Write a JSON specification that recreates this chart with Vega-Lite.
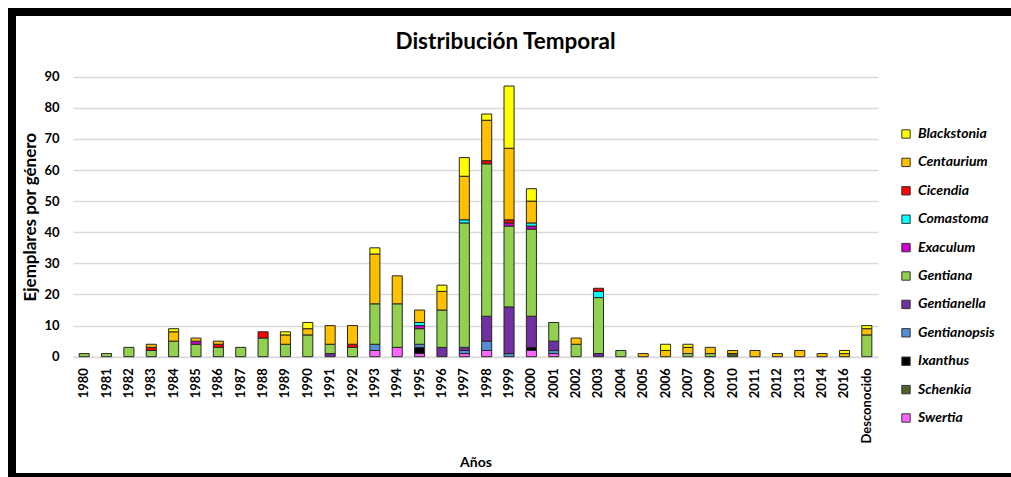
{
  "$schema": "https://vega.github.io/schema/vega-lite/v6.json",
  "autosize": {"type": "none"},
  "width": 999,
  "height": 465,
  "padding": {"left": 12, "top": 12, "right": 0, "bottom": 0},
  "background": "white",
  "title": {
    "text": "Distribución Temporal",
    "font": "Lato",
    "fontSize": 22.5,
    "fontWeight": "bold",
    "color": "#000000",
    "anchor": "middle",
    "frame": "group",
    "offset": -41,
    "dx": -6
  },
  "data": {
    "values": [
      {"anio": "1980", "genero": "Gentiana", "n": 1},
      {"anio": "1981", "genero": "Gentiana", "n": 1},
      {"anio": "1982", "genero": "Gentiana", "n": 3},
      {"anio": "1983", "genero": "Gentiana", "n": 2},
      {"anio": "1983", "genero": "Cicendia", "n": 1},
      {"anio": "1983", "genero": "Centaurium", "n": 1},
      {"anio": "1984", "genero": "Gentiana", "n": 5},
      {"anio": "1984", "genero": "Centaurium", "n": 3},
      {"anio": "1984", "genero": "Blackstonia", "n": 1},
      {"anio": "1985", "genero": "Gentiana", "n": 4},
      {"anio": "1985", "genero": "Exaculum", "n": 1},
      {"anio": "1985", "genero": "Centaurium", "n": 1},
      {"anio": "1986", "genero": "Gentiana", "n": 3},
      {"anio": "1986", "genero": "Cicendia", "n": 1},
      {"anio": "1986", "genero": "Centaurium", "n": 1},
      {"anio": "1987", "genero": "Gentiana", "n": 3},
      {"anio": "1988", "genero": "Gentiana", "n": 6},
      {"anio": "1988", "genero": "Cicendia", "n": 2},
      {"anio": "1989", "genero": "Gentiana", "n": 4},
      {"anio": "1989", "genero": "Centaurium", "n": 3},
      {"anio": "1989", "genero": "Blackstonia", "n": 1},
      {"anio": "1990", "genero": "Gentiana", "n": 7},
      {"anio": "1990", "genero": "Centaurium", "n": 2},
      {"anio": "1990", "genero": "Blackstonia", "n": 2},
      {"anio": "1991", "genero": "Gentianella", "n": 1},
      {"anio": "1991", "genero": "Gentiana", "n": 3},
      {"anio": "1991", "genero": "Centaurium", "n": 6},
      {"anio": "1992", "genero": "Gentiana", "n": 3},
      {"anio": "1992", "genero": "Cicendia", "n": 1},
      {"anio": "1992", "genero": "Centaurium", "n": 6},
      {"anio": "1993", "genero": "Swertia", "n": 2},
      {"anio": "1993", "genero": "Gentianopsis", "n": 2},
      {"anio": "1993", "genero": "Gentiana", "n": 13},
      {"anio": "1993", "genero": "Centaurium", "n": 16},
      {"anio": "1993", "genero": "Blackstonia", "n": 2},
      {"anio": "1994", "genero": "Swertia", "n": 3},
      {"anio": "1994", "genero": "Gentiana", "n": 14},
      {"anio": "1994", "genero": "Centaurium", "n": 9},
      {"anio": "1995", "genero": "Swertia", "n": 1},
      {"anio": "1995", "genero": "Ixanthus", "n": 2},
      {"anio": "1995", "genero": "Gentianopsis", "n": 1},
      {"anio": "1995", "genero": "Gentiana", "n": 5},
      {"anio": "1995", "genero": "Exaculum", "n": 1},
      {"anio": "1995", "genero": "Comastoma", "n": 1},
      {"anio": "1995", "genero": "Centaurium", "n": 4},
      {"anio": "1996", "genero": "Gentianella", "n": 3},
      {"anio": "1996", "genero": "Gentiana", "n": 12},
      {"anio": "1996", "genero": "Centaurium", "n": 6},
      {"anio": "1996", "genero": "Blackstonia", "n": 2},
      {"anio": "1997", "genero": "Swertia", "n": 1},
      {"anio": "1997", "genero": "Gentianopsis", "n": 1},
      {"anio": "1997", "genero": "Gentianella", "n": 1},
      {"anio": "1997", "genero": "Gentiana", "n": 40},
      {"anio": "1997", "genero": "Comastoma", "n": 1},
      {"anio": "1997", "genero": "Centaurium", "n": 14},
      {"anio": "1997", "genero": "Blackstonia", "n": 6},
      {"anio": "1998", "genero": "Swertia", "n": 2},
      {"anio": "1998", "genero": "Gentianopsis", "n": 3},
      {"anio": "1998", "genero": "Gentianella", "n": 8},
      {"anio": "1998", "genero": "Gentiana", "n": 49},
      {"anio": "1998", "genero": "Cicendia", "n": 1},
      {"anio": "1998", "genero": "Centaurium", "n": 13},
      {"anio": "1998", "genero": "Blackstonia", "n": 2},
      {"anio": "1999", "genero": "Gentianopsis", "n": 1},
      {"anio": "1999", "genero": "Gentianella", "n": 15},
      {"anio": "1999", "genero": "Gentiana", "n": 26},
      {"anio": "1999", "genero": "Exaculum", "n": 1},
      {"anio": "1999", "genero": "Cicendia", "n": 1},
      {"anio": "1999", "genero": "Centaurium", "n": 23},
      {"anio": "1999", "genero": "Blackstonia", "n": 20},
      {"anio": "2000", "genero": "Swertia", "n": 2},
      {"anio": "2000", "genero": "Ixanthus", "n": 1},
      {"anio": "2000", "genero": "Gentianella", "n": 10},
      {"anio": "2000", "genero": "Gentiana", "n": 28},
      {"anio": "2000", "genero": "Exaculum", "n": 1},
      {"anio": "2000", "genero": "Comastoma", "n": 1},
      {"anio": "2000", "genero": "Centaurium", "n": 7},
      {"anio": "2000", "genero": "Blackstonia", "n": 4},
      {"anio": "2001", "genero": "Swertia", "n": 1},
      {"anio": "2001", "genero": "Gentianopsis", "n": 1},
      {"anio": "2001", "genero": "Gentianella", "n": 3},
      {"anio": "2001", "genero": "Gentiana", "n": 6},
      {"anio": "2002", "genero": "Gentiana", "n": 4},
      {"anio": "2002", "genero": "Centaurium", "n": 2},
      {"anio": "2003", "genero": "Gentianella", "n": 1},
      {"anio": "2003", "genero": "Gentiana", "n": 18},
      {"anio": "2003", "genero": "Comastoma", "n": 2},
      {"anio": "2003", "genero": "Cicendia", "n": 1},
      {"anio": "2004", "genero": "Gentiana", "n": 2},
      {"anio": "2005", "genero": "Centaurium", "n": 1},
      {"anio": "2006", "genero": "Centaurium", "n": 2},
      {"anio": "2006", "genero": "Blackstonia", "n": 2},
      {"anio": "2007", "genero": "Gentiana", "n": 1},
      {"anio": "2007", "genero": "Centaurium", "n": 2},
      {"anio": "2007", "genero": "Blackstonia", "n": 1},
      {"anio": "2009", "genero": "Gentiana", "n": 1},
      {"anio": "2009", "genero": "Centaurium", "n": 2},
      {"anio": "2010", "genero": "Schenkia", "n": 1},
      {"anio": "2010", "genero": "Centaurium", "n": 1},
      {"anio": "2011", "genero": "Centaurium", "n": 2},
      {"anio": "2012", "genero": "Centaurium", "n": 1},
      {"anio": "2013", "genero": "Centaurium", "n": 2},
      {"anio": "2014", "genero": "Centaurium", "n": 1},
      {"anio": "2016", "genero": "Centaurium", "n": 1},
      {"anio": "2016", "genero": "Blackstonia", "n": 1},
      {"anio": "Desconocido", "genero": "Gentiana", "n": 7},
      {"anio": "Desconocido", "genero": "Centaurium", "n": 2},
      {"anio": "Desconocido", "genero": "Blackstonia", "n": 1}
    ]
  },
  "mark": {"type": "bar", "stroke": "#262626", "strokeWidth": 1},
  "encoding": {
    "x": {
      "field": "anio",
      "type": "nominal",
      "scale": {"range": [61, 866], "paddingInner": 0.55, "paddingOuter": 0.275},
      "axis": {
        "title": "Años",
        "offset": -120.3,
        "domain": true,
        "domainColor": "#D9D9D9",
        "domainWidth": 1.5,
        "ticks": false,
        "tickSize": 0,
        "labelAngle": -90,
        "labelPadding": 11,
        "labelFont": "Lato",
        "labelFontSize": 13,
        "labelFontWeight": "bold",
        "labelColor": "#000000",
        "titleFont": "Lato",
        "titleFontSize": 14,
        "titleFontWeight": "bold",
        "titleColor": "#000000",
        "titleY": 106,
        "titleBaseline": "middle"
      }
    },
    "y": {
      "field": "n",
      "type": "quantitative",
      "aggregate": "sum",
      "stack": "zero",
      "scale": {"domain": [0, 90], "range": [344.7, 64.7], "nice": false, "zero": true},
      "axis": {
        "title": "Ejemplares por género",
        "offset": -61,
        "values": [0, 10, 20, 30, 40, 50, 60, 70, 80, 90],
        "domain": false,
        "ticks": false,
        "tickSize": 0,
        "grid": true,
        "gridColor": "#D9D9D9",
        "gridWidth": 1.5,
        "labelPadding": 14,
        "labelFont": "Lato",
        "labelFontSize": 13,
        "labelFontWeight": "bold",
        "labelColor": "#000000",
        "titleFont": "Lato",
        "titleFontSize": 17,
        "titleFontWeight": "bold",
        "titleColor": "#000000",
        "titleX": -43,
        "titleBaseline": "middle"
      }
    },
    "color": {
      "field": "genero",
      "type": "nominal",
      "scale": {
        "domain": ["Blackstonia", "Centaurium", "Cicendia", "Comastoma", "Exaculum", "Gentiana", "Gentianella", "Gentianopsis", "Ixanthus", "Schenkia", "Swertia"],
        "range": ["#FFFF00", "#FFC000", "#FF0000", "#00FFFF", "#CC00CC", "#92D050", "#7030A0", "#558ED5", "#000000", "#4F6228", "#FF66FF"]
      },
      "legend": {
        "title": null,
        "orient": "none",
        "legendX": 887,
        "legendY": 115,
        "padding": 0,
        "symbolType": "square",
        "symbolSize": 70,
        "symbolStrokeColor": "#333333",
        "symbolStrokeWidth": 1,
        "rowPadding": 14.4,
        "labelOffset": 5,
        "labelFont": "Lato",
        "labelFontSize": 14,
        "labelFontWeight": "bold",
        "labelFontStyle": "italic",
        "labelColor": "#000000"
      }
    },
    "order": {"field": "genero", "sort": "descending"}
  },
  "config": {
    "view": {
      "stroke": "#000000",
      "strokeWidth": 8,
      "strokeDash": [999, 465, 1464],
      "fill": "white"
    }
  }
}
